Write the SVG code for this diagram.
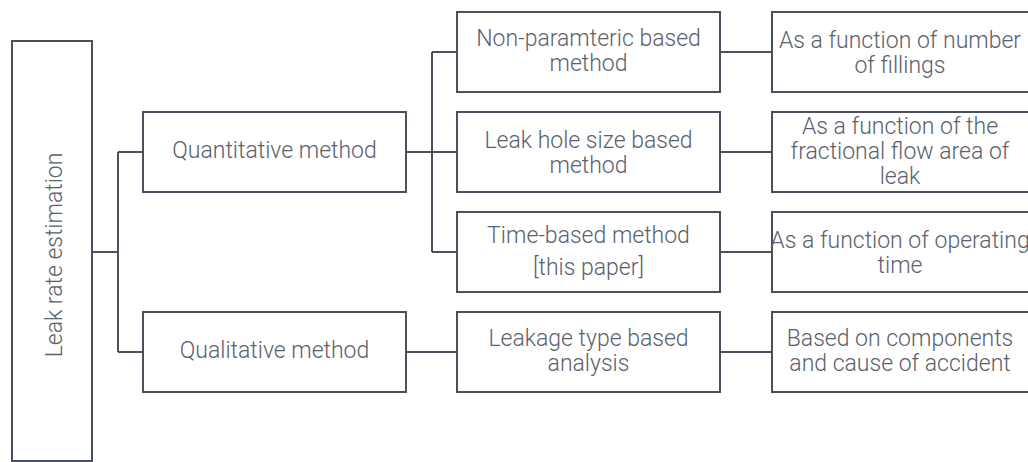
<svg xmlns="http://www.w3.org/2000/svg" width="1028" height="462" viewBox="0 0 1028 462">
  <style>
    .box { fill: #ffffff; stroke: #4a505c; stroke-width: 2; }
    .wire { fill: none; stroke: #4a505c; stroke-width: 2; }
    text { font-family: Roboto, "Liberation Sans", sans-serif; font-weight: 300; font-size: 23px; fill: #5b616c; text-anchor: middle; }
  </style>
  <rect width="1028" height="462" fill="#ffffff"/>

  <!-- connectors -->
  <g id="connectors" class="wire">
    <path d="M92 252 H118 M118 152 V352 M118 152 H143 M118 352 H143"/>
    <path d="M406 152 H457 M432 52 V252 M432 52 H457 M432 252 H457"/>
    <path d="M406 352 H457"/>
    <path d="M720 52 H772 M720 152 H772 M720 252 H772 M720 352 H772"/>
  </g>

  <!-- root -->
  <g id="leak-rate-estimation">
    <rect class="box" x="12" y="41" width="80" height="420"/>
    <text transform="translate(62 255) rotate(-90)">Leak rate estimation</text>
  </g>

  <!-- level 1 -->
  <g id="quantitative">
    <rect class="box" x="143" y="112" width="263" height="80"/>
    <text x="274.5" y="158">Quantitative method</text>
  </g>
  <g id="qualitative">
    <rect class="box" x="143" y="312" width="263" height="80"/>
    <text x="274.5" y="358">Qualitative method</text>
  </g>

  <!-- level 2 -->
  <g id="non-parametric">
    <rect class="box" x="457" y="12" width="263" height="80"/>
    <text x="588.5" y="46">Non-paramteric based</text>
    <text x="588.5" y="71">method</text>
  </g>
  <g id="leak-hole-size">
    <rect class="box" x="457" y="112" width="263" height="80"/>
    <text x="588.5" y="148">Leak hole size based</text>
    <text x="588.5" y="173">method</text>
  </g>
  <g id="time-based">
    <rect class="box" x="457" y="212" width="263" height="80"/>
    <text x="588.5" y="243">Time-based method</text>
    <text x="588.5" y="275">[this paper]</text>
  </g>
  <g id="leakage-type">
    <rect class="box" x="457" y="312" width="263" height="80"/>
    <text x="588.5" y="346">Leakage type based</text>
    <text x="588.5" y="371">analysis</text>
  </g>

  <!-- level 3 -->
  <g id="number-of-fillings">
    <rect class="box" x="772" y="12" width="270" height="80"/>
    <text x="900" y="48">As a function of number</text>
    <text x="900" y="73">of fillings</text>
  </g>
  <g id="fractional-flow-area">
    <rect class="box" x="772" y="112" width="270" height="80"/>
    <text x="900" y="134">As a function of the</text>
    <text x="900" y="159">fractional flow area of</text>
    <text x="900" y="184">leak</text>
  </g>
  <g id="operating-time">
    <rect class="box" x="772" y="212" width="270" height="80"/>
    <text x="900" y="248">As a function of operating</text>
    <text x="900" y="273">time</text>
  </g>
  <g id="components-cause">
    <rect class="box" x="772" y="312" width="270" height="80"/>
    <text x="900" y="346">Based on components</text>
    <text x="900" y="371">and cause of accident</text>
  </g>
</svg>
